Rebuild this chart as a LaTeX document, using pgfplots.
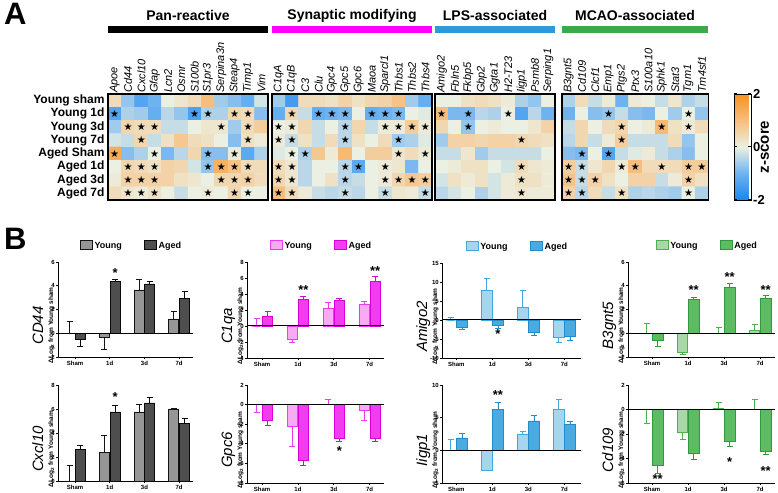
\documentclass[border=0pt]{standalone}
\usepackage{pgfplots}
\pgfplotsset{compat=1.18}
\usepackage{fontspec}
\setmainfont{Liberation Sans}
\newfontfamily\djv{DejaVu Sans}
\usetikzlibrary{plotmarks}
\definecolor{grpmag}{RGB}{255,0,255}
\definecolor{grpblue}{RGB}{46,154,216}
\definecolor{grpgreen}{RGB}{61,170,74}
\definecolor{gyF}{RGB}{150,150,150}\definecolor{gyE}{RGB}{20,20,20}
\definecolor{gaF}{RGB}{78,78,78}\definecolor{gaE}{RGB}{10,10,10}
\definecolor{pyF}{RGB}{248,170,244}\definecolor{pyE}{RGB}{235,60,235}
\definecolor{paF}{RGB}{242,60,242}\definecolor{paE}{RGB}{215,0,215}
\definecolor{byF}{RGB}{166,213,240}\definecolor{byE}{RGB}{64,168,224}
\definecolor{baF}{RGB}{75,170,224}\definecolor{baE}{RGB}{30,140,205}
\definecolor{lyF}{RGB}{168,216,168}\definecolor{lyE}{RGB}{76,175,80}
\definecolor{laF}{RGB}{93,187,99}\definecolor{laE}{RGB}{46,154,62}
\pgfplotsset{
  colormap={zs}{rgb255=(25,135,240) rgb255=(110,178,240) rgb255=(236,240,226) rgb255=(246,190,125) rgb255=(247,146,30)},
  hm/.style={scale only axis, height=106pt, y dir=reverse, xmin=-0.5, ymin=-0.5, ymax=7.5,
    enlargelimits=false, ytick={0,...,7}, yticklabels={}, xticklabel pos=upper,
    major tick length=0pt, axis line style={line width=1.6pt}, axis on top,
    x tick label style={rotate=90, anchor=west, font=\itshape\fontsize{11}{11}\selectfont, inner sep=1pt},
    y tick label style={font=\bfseries\fontsize{12}{12}\selectfont},
    colormap name=zs, point meta min=-2, point meta max=2},
  stars/.style={only marks, black, mark=text, text mark={\djv\fontsize{10}{10}\selectfont ★}},
  barax/.style={scale only axis, clip=false,
    axis x line*=bottom, axis y line*=left,
    xtick={0,1,2,3}, xticklabels={Sham,1d,3d,7d},
    tick align=outside, major tick length=2pt,
    every tick/.style={black, line width=0.7pt},
    axis line style={black, line width=0.9pt},
    x tick label style={font=\bfseries\fontsize{6}{6}\selectfont, inner sep=1.5pt},
    y tick label style={font=\bfseries\fontsize{6}{6}\selectfont, inner sep=1pt, black},
    /pgf/number format/assume math mode=true,
    ylabel style={align=center, at={(axis description cs:0,0.5)}, anchor=south, xshift=-16pt},
    legend style={at={(0.5,1)}, anchor=south, xshift=6pt, yshift=8pt, draw=none, fill=none,
      legend columns=2, font=\bfseries\fontsize{9}{9}\selectfont,
      /tikz/every even column/.append style={column sep=20pt}},
  },
  bbar/.style 2 args={ybar, bar width=0.29, bar shift=0pt, fill=#1, draw=#2, line width=0.8pt,
    legend image code/.code={\draw[##1] (0pt,-4pt) rectangle (12pt,5pt);},
    error bars/y dir=both, error bars/y explicit,
    error bars/error bar style={draw=#2, line width=0.8pt},
    error bars/error mark options={draw=#2, line width=0.8pt, mark size=3pt, rotate=90}},
  sig/.style={only marks, black, mark=text, text mark={\bfseries\fontsize{13}{13}\selectfont #1}, forget plot},
  zline/.style={black, line width=1pt, forget plot},
}
\newcommand{\ylab}[1]{{\fontsize{15}{15}\selectfont\itshape #1}\\[-2pt]{\fontsize{6.5}{6.5}\selectfont\bfseries ΔLog\textsubscript{2} from Young sham}}
\begin{document}
\begin{tikzpicture}[x=1pt,y=1pt]
\useasboundingbox (0,0) rectangle (778,492);
% panel letters
\node[anchor=north west, inner sep=0, font=\bfseries\fontsize{31}{31}\selectfont] at (4,489) {A};
\node[anchor=north west, inner sep=0, font=\bfseries\fontsize{31}{31}\selectfont] at (4,264) {B};
% group titles and bars
\fill[black] (108,459) rectangle (268,466);
\fill[grpmag] (272,459) rectangle (432,466);
\fill[grpblue] (435,459) rectangle (555,466);
\fill[grpgreen] (562,459) rectangle (708,466);
\node[font=\bfseries\fontsize{14}{14}\selectfont] at (188,476) {Pan-reactive};
\node[font=\bfseries\fontsize{14}{14}\selectfont] at (352,476) {Synaptic modifying};
\node[font=\bfseries\fontsize{14}{14}\selectfont] at (495,476) {LPS-associated};
\node[font=\bfseries\fontsize{14}{14}\selectfont] at (635,476) {MCAO-associated};
\node[rotate=90, font=\bfseries\fontsize{15}{15}\selectfont] at (765,345) {z-score};

% ---------- Heatmap block 1
\begin{axis}[hm, at={(108pt,398pt)}, anchor=north west, width=160pt, xmax=11.5,
  xtick={0,...,11}, xticklabels={Apoe,Cd44,Cxcl10,Gfap,Lcn2,Osmr,S100b,S1pr3,Serpina3n,Steap4,Timp1,Vim},
  yticklabels={Young sham,Young 1d,Young 3d,Young 7d,Aged Sham,Aged 1d,Aged 3d,Aged 7d}]
\addplot[matrix plot*, mesh/cols=12, point meta=explicit] coordinates {
(0,0)[0.4] (1,0)[-0.7] (2,0)[-1.3] (3,0)[-1.0] (4,0)[0.0] (5,0)[0.2] (6,0)[0.4] (7,0)[1.0] (8,0)[-0.6] (9,0)[-0.8] (10,0)[-1.1] (11,0)[-0.2]
(0,1)[-1.3] (1,1)[-0.5] (2,1)[-0.6] (3,1)[-1.1] (4,1)[-0.4] (5,1)[-0.7] (6,1)[-1.4] (7,1)[-0.5] (8,1)[-0.5] (9,1)[0.5] (10,1)[0.4] (11,1)[-0.8]
(0,2)[-0.6] (1,2)[0.5] (2,2)[0.4] (3,2)[0.4] (4,2)[-0.3] (5,2)[-0.3] (6,2)[0.0] (7,2)[0.2] (8,2)[0.2] (9,2)[-0.6] (10,2)[0.4] (11,2)[0.7]
(0,3)[-0.2] (1,3)[-0.3] (2,3)[0.5] (3,3)[-0.3] (4,3)[0.3] (5,3)[0.8] (6,3)[0.4] (7,3)[0.3] (8,3)[0.0] (9,3)[-0.8] (10,3)[0.3] (11,3)[0.1]
(0,4)[1.4] (1,4)[-0.8] (2,4)[-0.5] (3,4)[0.0] (4,4)[-0.9] (5,4)[-0.4] (6,4)[0.5] (7,4)[-0.8] (8,4)[-0.8] (9,4)[0.1] (10,4)[-1.2] (11,4)[-0.5]
(0,5)[0.0] (1,5)[0.5] (2,5)[0.4] (3,5)[0.3] (4,5)[0.6] (5,5)[0.5] (6,5)[-0.2] (7,5)[-0.7] (8,5)[1.3] (9,5)[0.9] (10,5)[0.4] (11,5)[0.4]
(0,6)[0.1] (1,6)[0.6] (2,6)[0.6] (3,6)[0.6] (4,6)[0.6] (5,6)[0.3] (6,6)[0.2] (7,6)[0.0] (8,6)[0.5] (9,6)[0.5] (10,6)[0.6] (11,6)[0.4]
(0,7)[0.4] (1,7)[0.2] (2,7)[0.1] (3,7)[0.3] (4,7)[0.0] (5,7)[-0.3] (6,7)[0.0] (7,7)[0.1] (8,7)[0.0] (9,7)[0.5] (10,7)[0.0] (11,7)[0.0]
};
\addplot[stars] coordinates {
(0,1) (6,1) (7,1) (9,1) (10,1)
(1,2) (2,2) (3,2) (8,2) (10,2)
(2,3) (10,3)
(0,4) (3,4) (7,4) (9,4)
(1,5) (2,5) (3,5) (7,5) (8,5) (9,5) (10,5)
(1,6) (2,6) (3,6) (8,6) (9,6) (10,6)
(1,7) (2,7) (3,7) (7,7) (9,7) (10,7)};
\end{axis}

% ---------- Heatmap block 2
\begin{axis}[hm, at={(272pt,398pt)}, anchor=north west, width=160pt, xmax=11.5,
  xtick={0,...,11}, xticklabels={C1qA,C1qB,C3,Clu,Gpc4,Gpc5,Gpc6,Maoa,Sparcl1,Thbs1,Thbs2,Thbs4}]
\addplot[matrix plot*, mesh/cols=12, point meta=explicit] coordinates {
(0,0)[-0.6] (1,0)[-1.5] (2,0)[0.4] (3,0)[0.4] (4,0)[0.3] (5,0)[0.6] (6,0)[0.3] (7,0)[0.5] (8,0)[0.6] (9,0)[0.9] (10,0)[-0.6] (11,0)[-1.1]
(0,1)[-1.1] (1,1)[0.5] (2,1)[-0.3] (3,1)[-1.1] (4,1)[-1.0] (5,1)[-0.9] (6,1)[0.0] (7,1)[-1.1] (8,1)[-1.0] (9,1)[-0.9] (10,1)[0.0] (11,1)[-0.1]
(0,2)[0.0] (1,2)[0.1] (2,2)[0.5] (3,2)[-0.3] (4,2)[0.0] (5,2)[-0.4] (6,2)[0.5] (7,2)[-0.3] (8,2)[0.1] (9,2)[0.1] (10,2)[0.7] (11,2)[0.1]
(0,3)[0.1] (1,3)[-0.3] (2,3)[0.3] (3,3)[-0.3] (4,3)[0.4] (5,3)[-0.4] (6,3)[0.3] (7,3)[0.0] (8,3)[0.4] (9,3)[-0.6] (10,3)[-0.5] (11,3)[-0.1]
(0,4)[-0.1] (1,4)[0.0] (2,4)[-0.5] (3,4)[0.8] (4,4)[0.1] (5,4)[1.1] (6,4)[0.0] (7,4)[0.7] (8,4)[0.7] (9,4)[0.2] (10,4)[0.4] (11,4)[0.1]
(0,5)[0.4] (1,5)[0.2] (2,5)[-0.4] (3,5)[0.0] (4,5)[0.0] (5,5)[-0.4] (6,5)[-1.2] (7,5)[0.0] (8,5)[0.1] (9,5)[0.2] (10,5)[-0.9] (11,5)[0.0]
(0,6)[0.5] (1,6)[0.2] (2,6)[-0.4] (3,6)[0.0] (4,6)[0.3] (5,6)[-0.4] (6,6)[-0.3] (7,6)[0.0] (8,6)[0.1] (9,6)[0.5] (10,6)[0.8] (11,6)[0.7]
(0,7)[1.0] (1,7)[0.4] (2,7)[0.1] (3,7)[-0.3] (4,7)[-0.4] (5,7)[-0.3] (6,7)[-0.4] (7,7)[0.0] (8,7)[-0.3] (9,7)[0.2] (10,7)[0.1] (11,7)[-0.3]
};
\addplot[stars] coordinates {
(1,1) (3,1) (4,1) (5,1) (7,1) (8,1) (9,1)
(0,2) (1,2) (5,2) (8,2) (9,2) (10,2) (11,2)
(0,3) (1,3) (5,3) (9,3)
(1,4) (2,4) (9,4) (11,4)
(0,5) (1,5) (5,5) (6,5) (8,5)
(0,6) (1,6) (5,6) (8,6) (9,6) (10,6) (11,6)
(0,7) (1,7) (5,7) (8,7) (11,7)};
\end{axis}

% ---------- Heatmap block 3
\begin{axis}[hm, at={(435pt,398pt)}, anchor=north west, width=120pt, xmax=8.5,
  xtick={0,...,8}, xticklabels={Amigo2,Fbln5,Fkbp5,Gbp2,Ggta1,H2-T23,Iigp1,Psmb8,Serping1}]
\addplot[matrix plot*, mesh/cols=9, point meta=explicit] coordinates {
(0,0)[0.0] (1,0)[0.0] (2,0)[0.3] (3,0)[0.4] (4,0)[0.3] (5,0)[0.1] (6,0)[-0.5] (7,0)[-0.7] (8,0)[0.0]
(0,1)[1.0] (1,1)[-0.9] (2,1)[-0.9] (3,1)[-0.4] (4,1)[-0.5] (5,1)[0.0] (6,1)[-1.3] (7,1)[-0.4] (8,1)[-1.0]
(0,2)[0.5] (1,2)[0.0] (2,2)[-0.7] (3,2)[0.0] (4,2)[0.1] (5,2)[0.0] (6,2)[0.0] (7,2)[0.2] (8,2)[0.6]
(0,3)[-0.6] (1,3)[0.6] (2,3)[0.6] (3,3)[0.5] (4,3)[0.6] (5,3)[0.6] (6,3)[0.5] (7,3)[0.4] (8,3)[0.3]
(0,4)[-0.3] (1,4)[-0.3] (2,4)[0.2] (3,4)[-0.6] (4,4)[-0.3] (5,4)[-0.3] (6,4)[-0.3] (7,4)[-0.3] (8,4)[0.0]
(0,5)[0.0] (1,5)[0.1] (2,5)[0.3] (3,5)[0.3] (4,5)[0.0] (5,5)[-0.2] (6,5)[0.4] (7,5)[0.2] (8,5)[0.1]
(0,6)[-0.2] (1,6)[0.3] (2,6)[0.1] (3,6)[0.3] (4,6)[-0.2] (5,6)[0.1] (6,6)[0.3] (7,6)[0.3] (8,6)[0.1]
(0,7)[-0.4] (1,7)[-0.2] (2,7)[0.0] (3,7)[-0.5] (4,7)[-0.2] (5,7)[0.1] (6,7)[0.2] (7,7)[0.1] (8,7)[0.1]
};
\addplot[stars] coordinates {(0,1) (2,1) (5,1) (2,2) (6,3) (6,5) (6,6) (6,7)};
\end{axis}

% ---------- Heatmap block 4 with colorbar
\begin{axis}[hm, at={(562pt,398pt)}, anchor=north west, width=146.5pt, xmax=10.5,
  xtick={0,...,10}, xticklabels={B3gnt5,Cd109,Clcf1,Emp1,Ptgs2,Ptx3,S100a10,Sphk1,Stat3,Tgm1,Tm4sf1},
  colorbar, colorbar style={at={(parent axis.north east)}, anchor=north west, xshift=17pt, width=17pt, height=106pt,
    ytick={-2,0,2}, yticklabels={-2,0,2}, major tick length=3pt,
    every tick/.style={black, line width=1pt},
    axis line style={line width=0.8pt},
    yticklabel style={font=\bfseries\fontsize{13}{13}\selectfont, inner sep=2pt}}]
\addplot[matrix plot*, mesh/cols=11, point meta=explicit] coordinates {
(0,0)[-0.5] (1,0)[0.4] (2,0)[-0.3] (3,0)[0.1] (4,0)[-1.0] (5,0)[0.1] (6,0)[0.0] (7,0)[-0.3] (8,0)[0.2] (9,0)[-0.5] (10,0)[-0.3]
(0,1)[-1.0] (1,1)[0.0] (2,1)[-0.8] (3,1)[-0.7] (4,1)[-0.3] (5,1)[-0.8] (6,1)[-0.9] (7,1)[0.0] (8,1)[-0.6] (9,1)[0.0] (10,1)[-0.7]
(0,2)[-0.3] (1,2)[0.5] (2,2)[0.0] (3,2)[0.4] (4,2)[0.5] (5,2)[0.0] (6,2)[0.1] (7,2)[1.1] (8,2)[0.3] (9,2)[0.1] (10,2)[0.4]
(0,3)[-0.4] (1,3)[0.5] (2,3)[-0.3] (3,3)[0.1] (4,3)[0.7] (5,3)[-0.3] (6,3)[-0.3] (7,3)[-0.3] (8,3)[0.4] (9,3)[-0.7] (10,3)[0.0]
(0,4)[-0.8] (1,4)[-0.9] (2,4)[0.0] (3,4)[-1.3] (4,4)[-0.3] (5,4)[-0.1] (6,4)[0.1] (7,4)[-0.3] (8,4)[-0.5] (9,4)[-0.8] (10,4)[0.0]
(0,5)[0.7] (1,5)[-0.3] (2,5)[0.2] (3,5)[0.5] (4,5)[0.1] (5,5)[1.0] (6,5)[0.4] (7,5)[0.4] (8,5)[0.4] (9,5)[0.7] (10,5)[0.7]
(0,6)[0.9] (1,6)[-0.3] (2,6)[0.6] (3,6)[0.3] (4,6)[0.0] (5,6)[0.6] (6,6)[0.6] (7,6)[-0.3] (8,6)[0.1] (9,6)[0.6] (10,6)[0.3]
(0,7)[0.6] (1,7)[-0.4] (2,7)[0.4] (3,7)[-0.3] (4,7)[0.3] (5,7)[-0.5] (6,7)[-0.4] (7,7)[-0.5] (8,7)[-0.6] (9,7)[0.0] (10,7)[-0.5]
};
\addplot[stars] coordinates {(3,1) (9,1) (4,2) (7,2) (9,2) (4,3) (1,4) (3,4)
(0,5) (1,5) (4,5) (5,5) (7,5) (9,5) (10,5) (0,6) (1,6) (2,6) (9,6) (0,7) (1,7) (4,7) (9,7)};
\end{axis}

% ================= Panel B row 1
\begin{axis}[barax, at={(58pt,230pt)}, anchor=north west, width=135pt, height=95pt,
  xmin=-0.49, xmax=3.4, ymin=-2, ymax=6, ytick={-2,0,2,4,6}, ylabel={\ylab{CD44}}]
\addplot[bbar={gyF}{gyE}] coordinates {(-0.155,0) += (0,1.0) -= (0,0) (0.845,-0.35) += (0,0) -= (0,1.05) (1.845,3.65) += (0,0.9) -= (0,0) (2.845,1.2) += (0,0.6) -= (0,0)};
\addlegendentry{Young}
\addplot[bbar={gaF}{gaE}] coordinates {(0.155,-0.55) += (0,0) -= (0,0.6) (1.155,4.35) += (0,0.2) -= (0,0) (2.155,4.15) += (0,0.25) -= (0,0) (3.155,2.9) += (0,0.6) -= (0,0)};
\addlegendentry{Aged}
\addplot[zline] coordinates {(-0.49,0) (3.4,0)};
\addplot[sig={*}] coordinates {(1.155,5.1)};
\end{axis}

\begin{axis}[barax, at={(247pt,230pt)}, anchor=north west, width=137pt, height=96pt,
  xmin=-0.42, xmax=3.4, ymin=-4, ymax=8, ytick={-4,-2,0,2,4,6,8}, ylabel={\ylab{C1qa}}]
\addplot[bbar={pyF}{pyE}] coordinates {(-0.155,0) += (0,0.9) -= (0,0) (0.845,-1.65) += (0,0) -= (0,0.35) (1.845,2.2) += (0,0.8) -= (0,0) (2.845,2.75) += (0,0.35) -= (0,0)};
\addlegendentry{Young}
\addplot[bbar={paF}{paE}] coordinates {(0.155,1.25) += (0,0.55) -= (0,0) (1.155,3.35) += (0,0.3) -= (0,0) (2.155,3.15) += (0,0.25) -= (0,0) (3.155,5.6) += (0,0.6) -= (0,0)};
\addlegendentry{Aged}
\addplot[zline] coordinates {(-0.42,0) (3.4,0)};
\addplot[sig={**}] coordinates {(1.155,4.5) (3.155,6.9)};
\end{axis}

\begin{axis}[barax, at={(442pt,229pt)}, anchor=north west, width=138.6pt, height=95pt,
  xmin=-0.4, xmax=3.45, ymin=-10, ymax=15, ytick={-10,-5,0,5,10,15}, ylabel={\ylab{Amigo2}}]
\addplot[bbar={byF}{byE}] coordinates {(-0.155,0) += (0,0.8) -= (0,0) (0.845,7.7) += (0,3.2) -= (0,0) (1.845,3.4) += (0,4.3) -= (0,0) (2.845,-4.6) += (0,0) -= (0,1.3)};
\addlegendentry{Young}
\addplot[bbar={baF}{baE}] coordinates {(0.155,-2.0) += (0,0) -= (0,0.6) (1.155,-1.5) += (0,0) -= (0,0.7) (2.155,-3.3) += (0,0) -= (0,0.7) (3.155,-4.4) += (0,0) -= (0,0.9)};
\addlegendentry{Aged}
\addplot[zline] coordinates {(-0.4,0) (3.45,0)};
\addplot[sig={*}] coordinates {(1.155,-3.8)};
\end{axis}

\begin{axis}[barax, at={(628pt,230pt)}, anchor=north west, width=146.5pt, height=95pt,
  xmin=-0.67, xmax=3.4, ymin=-2, ymax=6, ytick={-2,0,2,4,6}, ylabel={\ylab{B3gnt5}}]
\addplot[bbar={lyF}{lyE}] coordinates {(-0.155,0) += (0,0.85) -= (0,0) (0.845,-1.65) += (0,0) -= (0,0.15) (1.845,0) += (0,0.5) -= (0,0) (2.845,0.2) += (0,0.55) -= (0,0)};
\addlegendentry{Young}
\addplot[bbar={laF}{laE}] coordinates {(0.155,-0.6) += (0,0) -= (0,0.5) (1.155,2.85) += (0,0.15) -= (0,0) (2.155,3.85) += (0,0.35) -= (0,0) (3.155,2.95) += (0,0.2) -= (0,0)};
\addlegendentry{Aged}
\addplot[zline] coordinates {(-0.67,0) (3.4,0)};
\addplot[sig={**}] coordinates {(1.155,3.6) (2.155,4.7) (3.155,3.6)};
\end{axis}

% ================= Panel B row 2
\begin{axis}[barax, at={(58pt,107pt)}, anchor=north west, width=135pt, height=96pt,
  xmin=-0.49, xmax=3.4, ymin=0, ymax=8, ytick={0,2,4,6,8}, ylabel={\ylab{Cxcl10}}]
\addplot[bbar={gyF}{gyE}] coordinates {(-0.155,0) += (0,1.3) -= (0,0) (0.845,2.35) += (0,1.45) -= (0,0) (1.845,5.75) += (0,0.6) -= (0,0) (2.845,6.0) += (0,0.05) -= (0,0)};
\addplot[bbar={gaF}{gaE}] coordinates {(0.155,2.6) += (0,0.35) -= (0,0) (1.155,5.75) += (0,0.55) -= (0,0) (2.155,6.5) += (0,0.5) -= (0,0) (3.155,4.8) += (0,0.4) -= (0,0)};
\addplot[sig={*}] coordinates {(1.155,7.0)};
\end{axis}

\begin{axis}[barax, at={(247pt,107pt)}, anchor=north west, width=137pt, height=98pt,
  xmin=-0.42, xmax=3.4, ymin=-8, ymax=2, ytick={-8,-6,-4,-2,0,2}, ylabel={\ylab{Gpc6}}]
\addplot[bbar={pyF}{pyE}] coordinates {(-0.155,0) += (0,0) -= (0,0.8) (0.845,-2.2) += (0,0) -= (0,2.05) (1.845,0) += (0,0.55) -= (0,0) (2.845,-0.55) += (0,0) -= (0,1.1)};
\addplot[bbar={paF}{paE}] coordinates {(0.155,-1.6) += (0,0) -= (0,0.55) (1.155,-5.65) += (0,0) -= (0,0.55) (2.155,-3.5) += (0,0) -= (0,0.25) (3.155,-3.4) += (0,0) -= (0,0.4)};
\addplot[zline] coordinates {(-0.42,0) (3.4,0)};
\addplot[sig={*}] coordinates {(2.155,-4.7)};
\end{axis}

\begin{axis}[barax, at={(442pt,107pt)}, anchor=north west, width=138.6pt, height=98pt,
  xmin=-0.4, xmax=3.45, ymin=-5, ymax=10, ytick={-5,0,5,10}, ylabel={\ylab{Iigp1}}]
\addplot[bbar={byF}{byE}] coordinates {(-0.155,0) += (0,1.7) -= (0,0) (0.845,-3.05) += (0,0) -= (0,0.05) (1.845,2.5) += (0,0.45) -= (0,0) (2.845,6.3) += (0,1.45) -= (0,0)};
\addplot[bbar={baF}{baE}] coordinates {(0.155,1.9) += (0,0.65) -= (0,0) (1.155,6.2) += (0,1.1) -= (0,0) (2.155,4.5) += (0,0.8) -= (0,0) (3.155,4.0) += (0,0.5) -= (0,0)};
\addplot[zline] coordinates {(-0.4,0) (3.45,0)};
\addplot[sig={**}] coordinates {(1.155,8.4)};
\end{axis}

\begin{axis}[barax, at={(628pt,107pt)}, anchor=north west, width=146.5pt, height=98pt,
  xmin=-0.67, xmax=3.4, ymin=-6, ymax=2, ytick={-6,-4,-2,0,2}, ylabel={\ylab{Cd109}}]
\addplot[bbar={lyF}{lyE}] coordinates {(-0.155,0) += (0,0) -= (0,1.15) (0.845,-1.85) += (0,0) -= (0,0.6) (1.845,0.05) += (0,0.55) -= (0,0) (2.845,0) += (0,0.8) -= (0,0)};
\addplot[bbar={laF}{laE}] coordinates {(0.155,-4.6) += (0,0) -= (0,0.6) (1.155,-3.6) += (0,0) -= (0,0.5) (2.155,-2.6) += (0,0) -= (0,0.4) (3.155,-3.45) += (0,0) -= (0,0.25)};
\addplot[zline] coordinates {(-0.67,0) (3.4,0)};
\addplot[sig={**}] coordinates {(0.155,-5.7) (3.155,-5.0)};
\addplot[sig={*}] coordinates {(2.155,-4.3)};
\end{axis}
\end{tikzpicture}
\end{document}
